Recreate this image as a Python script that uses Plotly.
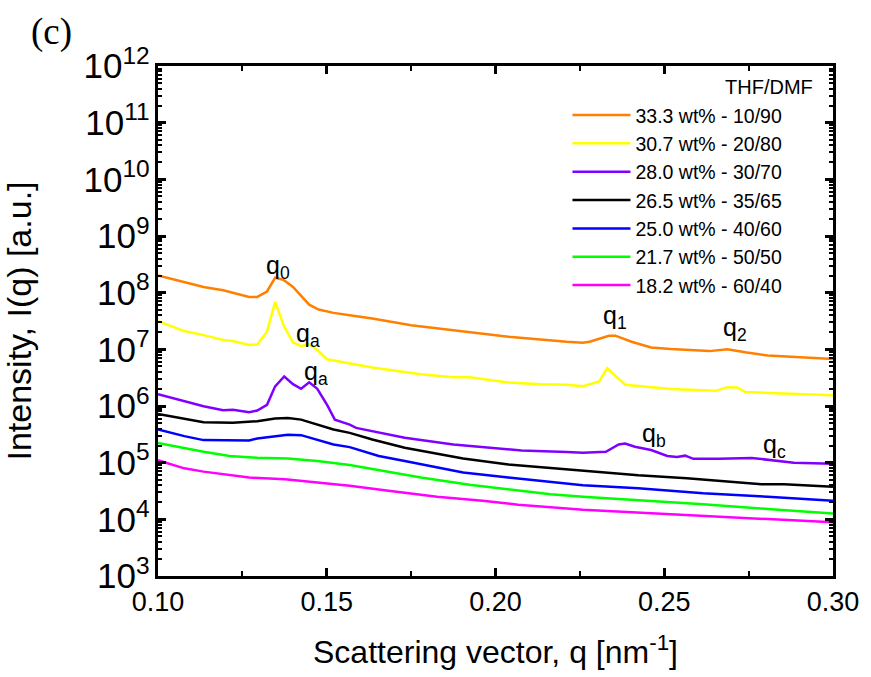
import math
import plotly.graph_objects as go

# ---- data ----
labels = ["33.3 wt% - 10/90", "30.7 wt% - 20/80", "28.0 wt% - 30/70", "26.5 wt% - 35/65",
          "25.0 wt% - 40/60", "21.7 wt% - 50/50", "18.2 wt% - 60/40"]
colors = ["#FF8000", "#FFFF00", "#8000FF", "#000000", "#0000FF", "#00FF00", "#FF00FF"]

q_333 = [0.100, 0.1135, 0.1193, 0.1270, 0.1294, 0.1323, 0.1347, 0.1371, 0.1400, 0.1424, 0.1448,
         0.1476, 0.1520, 0.1568, 0.1635, 0.1750, 0.1923, 0.2038, 0.2211, 0.2259, 0.2279, 0.2336,
         0.2355, 0.2403, 0.2461, 0.2519, 0.2634, 0.2687, 0.2740, 0.2807, 0.2903, 0.300]
I_333 = [2.01e8, 1.26e8, 1.10e8, 8.4e7, 8.4e7, 1.05e8, 1.83e8, 1.69e8, 1.26e8, 8.97e7, 6.15e7,
         5.04e7, 4.40e7, 4.0e7, 3.5e7, 2.67e7, 2.05e7, 1.67e7, 1.36e7, 1.31e7, 1.36e7, 1.74e7,
         1.74e7, 1.36e7, 1.08e7, 1.01e7, 9.3e6, 1.0e7, 8.85e6, 7.75e6, 7.24e6, 6.76e6]

q_307 = [0.100, 0.1078, 0.1135, 0.1193, 0.1222, 0.1270, 0.1294, 0.1323, 0.1347, 0.1374, 0.1400,
         0.1424, 0.1448, 0.1472, 0.1501, 0.1568, 0.1635, 0.1779, 0.1875, 0.1923, 0.2038, 0.2135,
         0.2211, 0.2259, 0.2307, 0.2331, 0.2384, 0.2519, 0.2653, 0.2687, 0.2716, 0.2740, 0.300]
I_307 = [3.13e7, 2.10e7, 1.78e7, 1.46e7, 1.40e7, 1.19e7, 1.22e7, 2.05e7, 6.87e7, 2.50e7, 1.33e7,
         1.14e7, 1.24e7, 9.7e6, 6.68e6, 5.68e6, 4.77e6, 3.64e6, 3.23e6, 3.23e6, 2.61e6, 2.43e6,
         2.37e6, 2.24e6, 2.71e6, 4.64e6, 2.37e6, 1.99e6, 1.85e6, 2.15e6, 2.13e6, 1.76e6, 1.54e6]

q_280 = [0.100, 0.1078, 0.1135, 0.1193, 0.1222, 0.1270, 0.1294, 0.1323, 0.1347, 0.1374, 0.1400,
         0.1424, 0.1448, 0.1472, 0.1501, 0.1524, 0.1539, 0.1568, 0.1587, 0.1731, 0.1875, 0.1942,
         0.2019, 0.2077, 0.2211, 0.2259, 0.2327, 0.2365, 0.2384, 0.2413, 0.2461, 0.2509, 0.2538,
         0.2562, 0.2586, 0.2663, 0.2759, 0.2884, 0.300]
I_280 = [1.62e6, 1.21e6, 9.9e5, 8.4e5, 8.6e5, 7.75e5, 8.3e5, 1.05e6, 2.22e6, 3.32e6, 2.43e6,
         2.01e6, 2.61e6, 2.01e6, 1.05e6, 5.75e5, 5.39e5, 4.70e5, 4.11e5, 2.75e5, 2.09e5, 1.91e5,
         1.76e5, 1.64e5, 1.54e5, 1.50e5, 1.56e5, 2.09e5, 2.18e5, 1.91e5, 1.67e5, 1.31e5, 1.26e5,
         1.33e5, 1.17e5, 1.17e5, 1.21e5, 1.0e5, 9.6e4]

q_265 = [0.100, 0.1078, 0.1135, 0.1222, 0.1294, 0.1347, 0.1385, 0.1424, 0.1472, 0.1520, 0.1568,
         0.1635, 0.1731, 0.1904, 0.2038, 0.2259, 0.2423, 0.2567, 0.2711, 0.2788, 0.2855, 0.300]
I_265 = [7.24e5, 5.99e5, 5.18e5, 5.04e5, 5.39e5, 5.99e5, 6.15e5, 5.75e5, 4.70e5, 3.84e5, 3.36e5,
         2.56e5, 1.83e5, 1.19e5, 9.3e4, 7.15e4, 5.98e4, 5.31e4, 4.58e4, 4.16e4, 4.16e4, 3.75e4]

q_250 = [0.100, 0.1078, 0.1135, 0.1270, 0.1294, 0.1347, 0.1385, 0.1424, 0.1472, 0.1520, 0.1568,
         0.1654, 0.1731, 0.1904, 0.2038, 0.2173, 0.2259, 0.2423, 0.2615, 0.2807, 0.300]
I_250 = [3.84e5, 2.94e5, 2.50e5, 2.46e5, 2.67e5, 2.94e5, 3.10e5, 3.06e5, 2.56e5, 2.09e5, 1.88e5,
         1.31e5, 1.07e5, 6.68e4, 5.46e4, 4.46e4, 4.0e4, 3.54e4, 2.89e4, 2.50e4, 2.13e4]

q_217 = [0.100, 0.1078, 0.1135, 0.1212, 0.1294, 0.1385, 0.1472, 0.1568, 0.1683, 0.1779, 0.1923,
         0.2067, 0.2163, 0.2259, 0.2423, 0.2615, 0.2807, 0.300]
I_217 = [2.22e5, 1.78e5, 1.56e5, 1.31e5, 1.22e5, 1.19e5, 1.07e5, 9.1e4, 6.95e4, 5.46e4, 4.06e4,
         3.19e4, 2.78e4, 2.50e4, 2.18e4, 1.85e4, 1.52e4, 1.27e4]

q_182 = [0.100, 0.1078, 0.1135, 0.1193, 0.1270, 0.1376, 0.1472, 0.1568, 0.1683, 0.1827, 0.1962,
         0.2067, 0.2259, 0.2423, 0.2615, 0.2807, 0.300]
I_182 = [1.10e5, 7.94e4, 6.95e4, 6.24e4, 5.46e4, 5.10e4, 4.46e4, 3.90e4, 3.19e4, 2.50e4, 2.13e4,
         1.81e4, 1.48e4, 1.33e4, 1.16e4, 1.01e4, 8.85e3]

peak_text = ["q<sub>0</sub>", "q<sub>a</sub>", "q<sub>a</sub>", "q<sub>1</sub>", "q<sub>2</sub>",
             "q<sub>b</sub>", "q<sub>c</sub>"]
peak_q = [0.1356, 0.1443, 0.1467, 0.2355, 0.2711, 0.2471, 0.2826]
peak_I = [2.8e8, 1.78e7, 3.8e6, 3.75e7, 2.33e7, 3.14e5, 1.96e5]

series_q = [q_333, q_307, q_280, q_265, q_250, q_217, q_182]
series_I = [I_333, I_307, I_280, I_265, I_250, I_217, I_182]

# plot-area geometry (pixels)
L, R, T, B = 143, 837, 66, 579
W, H = R - L, B - T

fig = go.Figure()
for name, col, xs, ys in zip(labels, colors, series_q, series_I):
    fig.add_trace(go.Scatter(x=xs, y=ys, mode="lines", name=name,
                             line=dict(color=col, width=2.5)))

for t, xq, yi in zip(peak_text, peak_q, peak_I):
    fig.add_annotation(x=xq, y=math.log10(yi), xref="x", yref="y", text=t, showarrow=False,
                       font=dict(family="Liberation Sans, Arial", size=25, color="black"))

fig.add_annotation(x=(818 - L) / W, y=1 - (87 - T) / H, xref="paper", yref="paper",
                   text="THF/DMF", showarrow=False, xanchor="right", yanchor="middle",
                   font=dict(family="Liberation Sans, Arial", size=20, color="black"))
fig.add_annotation(x=(33 - L) / W, y=1 - (32 - T) / H, xref="paper", yref="paper", text="(c)",
                   showarrow=False, xanchor="center", yanchor="middle",
                   font=dict(family="Liberation Serif, Times New Roman", size=37, color="black"))

axis_common = dict(showline=True, linecolor="black", linewidth=2.5, mirror="ticks",
                   ticks="inside", tickcolor="black", tickwidth=2.5, showgrid=False, zeroline=False)

fig.update_layout(
    width=871, height=677,
    margin=dict(l=L, r=871 - R, t=T, b=677 - B),
    plot_bgcolor="white", paper_bgcolor="white",
    font=dict(family="Liberation Sans, Arial", color="black"),
    showlegend=True,
    legend=dict(x=(564 - L) / W, y=1 - (96 - T) / H, xanchor="left", yanchor="top",
                bgcolor="rgba(0,0,0,0)", font=dict(size=19.5), itemwidth=58, tracegroupgap=0),
    xaxis=dict(range=[0.1, 0.3], dtick=0.05, tick0=0.1, tickformat=".2f", ticklen=8,
               tickfont=dict(size=27),
               minor=dict(dtick=0.025, ticks="inside", ticklen=5, tickwidth=2, tickcolor="black"),
               title=dict(text="Scattering vector, q [nm<sup>-1</sup>]", font=dict(size=32), standoff=25),
               **axis_common),
    yaxis=dict(type="log", range=[3, 12], dtick=1, exponentformat="power", ticklen=8,
               tickfont=dict(size=28),
               minor=dict(dtick="D1", ticks="inside", ticklen=4, tickwidth=1.5, tickcolor="black"),
               title=dict(text="Intensity, I(q) [a.u.]", font=dict(size=34), standoff=48),
               **axis_common),
)

fig.write_html("out.html", config={"displayModeBar": False},
               post_script="document.body.style.margin='0';")
